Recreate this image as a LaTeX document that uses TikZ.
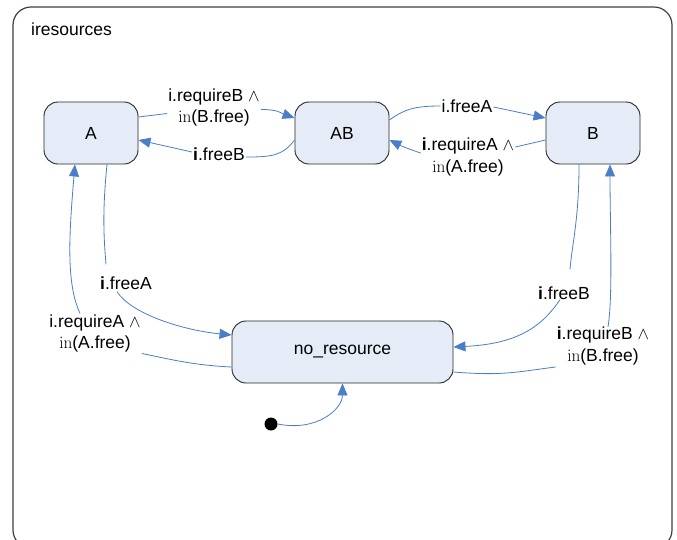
\documentclass[tikz,border=0pt]{standalone}
\usepackage[no-math]{fontspec}
\setmainfont{Liberation Sans}
\usetikzlibrary{arrows.meta}
\definecolor{edgeblue}{RGB}{74,126,199}
\definecolor{statefill}{RGB}{230,236,247}
\tikzset{
  state/.style={draw=black!85, line width=0.9pt, fill=statefill, rounded corners=14pt,
    minimum width=94pt, minimum height=62pt, inner sep=0pt, font=\fontsize{17.5}{20}\selectfont},
  lbl/.style={inner sep=1pt, align=center, font=\fontsize{17.5}{21.5}\selectfont},
  edge/.style={draw=edgeblue, line width=0.8pt},
  arr/.style={edge, -{Triangle[length=12pt,width=10pt]}, shorten >=0pt},
  frame/.style={draw=black!75, line width=1.2pt, rounded corners=18pt}
}
\begin{document}
\begin{tikzpicture}[x=1pt,y=-1pt]
\useasboundingbox (0,0) rectangle (677,539);
\fill[white] (0,0) rectangle (677,539);
\draw[frame] (13,7) rectangle (672,548);
\node[anchor=west, font=\fontsize{17.5}{20}\selectfont, inner sep=0pt] (title) at (31,29) {iresources};

\node[state] (A) at (91,133) {A};
\node[state] (AB) at (342,133) {AB};
\node[state] (B) at (593,133) {B};
\node[state, minimum width=221pt] (N) at (342.5,352) {no\_resource};
\node[circle, fill=black, inner sep=0pt, minimum size=13pt] (init) at (271,424) {};

% labels
\node[lbl] (L1) at (214,107.5) {i.requireB $\wedge$\\$\mathrm{in}$(B.free)};
\node[lbl] (L2) at (219,154) {\textbf{i}.freeB};
\node[lbl] (L3) at (467,106) {i.freeA};
\node[lbl] (L4) at (468,157) {\textbf{i}.requireA $\wedge$\\$\mathrm{in}$(A.free)};
\node[lbl] (L5) at (126,283) {\textbf{i}.freeA};
\node[lbl] (L6) at (95,333.5) {i.requireA $\wedge$\\$\mathrm{in}$(A.free)};
\node[lbl] (L7) at (564,293) {\textbf{i}.freeB};
\node[lbl] (L8) at (603,346) {\textbf{i}.requireB $\wedge$\\$\mathrm{in}$(B.free)};

% A -> AB
\draw[edge] ([yshift=16pt]A.east) -- ([yshift=-6pt]L1.west);
\draw[arr] ([yshift=-2pt]L1.east) .. controls +(18,0) and +(-14,-5) .. ([yshift=15pt]AB.west);
% AB -> A
\draw[edge] ([yshift=-7pt]AB.west) .. controls +(-12,16) and +(25,0) .. ([yshift=-3pt]L2.east);
\draw[arr] ([yshift=2pt]L2.west) -- ([yshift=-7pt]A.east);
% AB -> B
\draw[edge] ([yshift=13pt]AB.east) .. controls +(15,-11) and +(-25,0) .. (L3.west);
\draw[arr] ([yshift=-1pt]L3.east) -- ([yshift=15pt]B.west);
% B -> AB
\draw[edge] ([yshift=-7pt]B.west) -- ([yshift=10pt]L4.east);
\draw[arr] ([yshift=4pt]L4.west) .. controls +(-12,-4) and +(12,6) .. ([yshift=-7pt]AB.east);
% A -> no_resource
\draw[edge] ([xshift=16pt]A.south) .. controls +(-5,50) and +(-2,-25) .. ([xshift=-20pt,yshift=11pt]L5.north);
\draw[arr] ([xshift=-9pt,yshift=-1pt]L5.south) .. controls +(14,22) and +(-50,-5) .. ([yshift=17pt]N.west);
% no_resource -> A
\draw[edge] ([yshift=-15pt]N.west) .. controls +(-40,-2) and +(30,6) .. ([yshift=-20pt]L6.east);
\draw[arr] ([xshift=-15pt]L6.north) .. controls +(-14,-30) and +(-6,70) .. ([xshift=-16pt]A.south);
% B -> no_resource
\draw[edge] ([xshift=-14pt]B.south) .. controls +(0,55) and +(2,-25) .. ([xshift=6pt,yshift=16pt]L7.north);
\draw[arr] ([xshift=-4pt,yshift=1pt]L7.south) .. controls +(-20,30) and +(60,-3) .. ([yshift=5pt]N.east);
% no_resource -> B
\draw[edge] ([yshift=-20pt]N.east) .. controls +(50,4) and +(-40,5) .. ([yshift=-21pt]L8.west);
\draw[arr] ([xshift=5pt,yshift=-1pt]L8.north) .. controls +(5,-30) and +(0,60) .. ([xshift=17pt]B.south);
% initial
\draw[arr] (init.east) .. controls +(40,8) and +(0,25) .. (N.south);
\end{tikzpicture}
\end{document}
